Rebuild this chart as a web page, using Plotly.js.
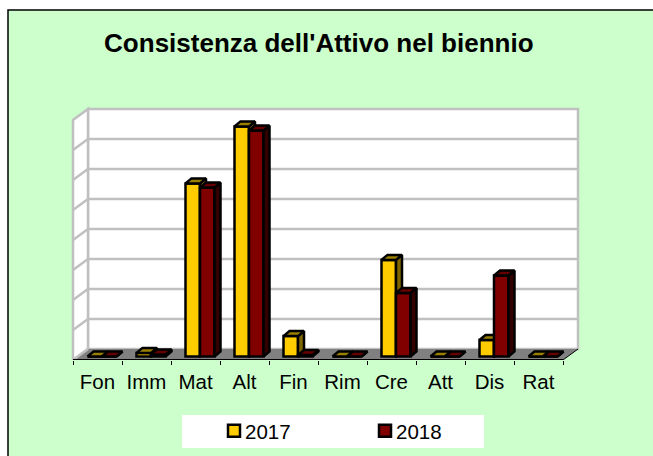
<!DOCTYPE html>
<html><head><meta charset="utf-8">
<script src="https://cdn.plot.ly/plotly-3.0.1.min.js"></script>
<style>html,body{margin:0;padding:0;background:#fff}#c{position:absolute;left:0;top:0;width:653px;height:456px}</style>
</head><body><div id="c"></div>
<script>
const categories=["Fon","Imm","Mat","Alt","Fin","Rim","Cre","Att","Dis","Rat"];
const values2017=[0,0.12,5.77,7.67,0.68,0,3.22,0,0.55,0];
const values2018=[0,0.07,5.63,7.53,0.05,0,2.12,0,2.70,0];
const seriesNames=["2017","2018"];
const titleText="Consistenza dell'Attivo nel biennio";

const W=653,H=456,L=73,R=578,T=109,B=360,CAT=49,UNIT=30;
// plot area is a little larger than the walls so their edge lines are not clipped
const PL=69,PR=582,PT=105,PB=360;
const xpx=p=>p/CAT, ypx=p=>p/UNIT;
const x0=-0.5, N=categories.length, x1=N-0.5;
const xRight=x0+xpx(R-L), yTop=ypx(B-T);
const xr=[x0-xpx(L-PL),x0+xpx(PR-L)], yr=[0,ypx(B-PT)];
const wallDX=xpx(15),wallDY=ypx(11);
const barDX=xpx(6),barDY=ypx(5),baseY=ypx(3.5),pairShift=xpx(4.5),barW=xpx(14.5);
const paperX=p=>(p-PL)/(PR-PL), paperY=p=>(PB-p)/(PB-PT);

const shapes=[];
const line=(a,b,c,d,col,w)=>shapes.push({type:'line',xref:'x',yref:'y',x0:a,y0:b,x1:c,y1:d,line:{color:col,width:w},layer:'below'});
const poly=(pts,fill,col,w)=>shapes.push({type:'path',xref:'x',yref:'y',layer:'below',
  path:'M'+pts.map(p=>p[0]+','+p[1]).join('L')+'Z',fillcolor:fill,line:{color:col,width:w}});
const GRID='#C0C0C0';
// chart area: white page, green panel with a black top and left edge
shapes.push({type:'rect',xref:'paper',yref:'paper',layer:'below',x0:paperX(8),x1:paperX(670),y0:paperY(480),y1:paperY(10),
  fillcolor:'#CCFFCC',line:{width:1.5,color:'#000000'}});
shapes.push({type:'rect',xref:'paper',yref:'paper',layer:'below',x0:paperX(182),x1:paperX(484),y0:paperY(448),y1:paperY(415),
  fillcolor:'#FFFFFF',line:{width:0}});
// back wall, left wall, floor
poly([[x0+wallDX,wallDY],[xRight,wallDY],[xRight,yTop],[x0+wallDX,yTop]],'#FFFFFF',GRID,2.5);
poly([[x0,0],[x0+wallDX,wallDY],[x0+wallDX,yTop],[x0,yTop-wallDY]],'#FFFFFF',GRID,2.5);
for(let g=1;g<=7;g++){
  line(x0+wallDX,wallDY+g,xRight,wallDY+g,GRID,2.5);
  line(x0,g,x0+wallDX,wallDY+g,GRID,2.5);
}
poly([[x0,0],[x1,0],[xRight,wallDY],[x0+wallDX,wallDY]],'#808080','#808080',0);
line(x0,0,x0+wallDX,wallDY,GRID,2.5);
line(x0,0,x1,0,'#000000',2);
line(x1,0,xRight,wallDY,'#000000',1);

function series(vals,idx,front,top,side,suffix){
  const sign=idx===0?-1:1;
  const xs=vals.map((v,i)=>i+pairShift+sign*barW/2);
  const out=[{type:'bar',name:seriesNames[idx],x:xs,y:vals,base:vals.map(()=>baseY),width:barW,
    marker:{color:front,line:{color:'#000000',width:2.5}},xaxis:'x'+suffix,yaxis:'y'+suffix,hoverinfo:'skip',cliponaxis:false}];
  const tx=[],ty=[],sx=[],sy=[];
  vals.forEach((v,i)=>{
    const l=xs[i]-barW/2,r=xs[i]+barW/2,b=baseY,t=baseY+v;
    tx.push(l,l+barDX,r+barDX,r,l,null);ty.push(t,t+barDY,t+barDY,t,t,null);
    sx.push(r,r+barDX,r+barDX,r,r,null);sy.push(b,b+barDY,t+barDY,t,b,null);
  });
  const face=(x,y,c)=>({type:'scatter',mode:'lines',x,y,fill:'toself',fillcolor:c,line:{color:'#000000',width:2.5},
    showlegend:false,xaxis:'x'+suffix,yaxis:'y'+suffix,hoverinfo:'skip',cliponaxis:false});
  out.push(face(sx,sy,side),face(tx,ty,top));
  return out;
}
const data=[...series(values2017,0,'#FFCC00','#998000','#806600',''),
            ...series(values2018,1,'#800000','#660000','#330000','2')];

const layout={
  width:W,height:H,autosize:false,
  paper_bgcolor:'#FFFFFF',plot_bgcolor:'rgba(0,0,0,0)',
  font:{family:'"Liberation Sans",Arial,sans-serif',color:'#000000',size:20.5},
  margin:{l:PL,r:W-PR,t:PT,b:H-PB,pad:0,autoexpand:false},
  title:{text:'<b>'+titleText+'</b>',font:{size:26,color:'#000000'},x:318/W,xanchor:'center',xref:'paper',y:1-43/H,yanchor:'middle'},
  xaxis:{range:xr,showgrid:false,zeroline:false,showline:false,tickmode:'array',
    tickvals:categories.map((c,i)=>i),ticktext:categories,ticks:'',ticklen:0,ticklabelstandoff:7,tickfont:{size:20.5,color:'#000000'},
    minor:{tickmode:'array',tickvals:categories.map((c,i)=>i-0.5).concat([x1]),ticks:'outside',ticklen:4,tickwidth:1,tickcolor:'#000000',showgrid:false},
    fixedrange:true},
  yaxis:{range:yr,showgrid:false,zeroline:false,showline:false,showticklabels:false,ticks:'',fixedrange:true},
  xaxis2:{range:xr,showgrid:false,zeroline:false,showticklabels:false,ticks:'',showline:false,fixedrange:true,overlaying:'x',anchor:'y2'},
  yaxis2:{range:yr,showgrid:false,zeroline:false,showticklabels:false,ticks:'',showline:false,fixedrange:true,overlaying:'y',anchor:'x2'},
  barmode:'overlay',
  shapes:shapes,
  legend:{orientation:'h',xref:'paper',yref:'paper',x:paperX(214),xanchor:'left',y:paperY(411),yanchor:'top',
    bgcolor:'rgba(0,0,0,0)',entrywidth:106,entrywidthmode:'pixels',traceorder:'normal',font:{size:20.5,color:'#000000'}},
  showlegend:true
};
Plotly.newPlot('c',data,layout,{displayModeBar:false,staticPlot:true}).then(()=>{
  // tighten the gap between legend swatch and label, as in the reference
  document.querySelectorAll('.legend .legendtext').forEach(t=>{
    t.setAttribute('x',String(parseFloat(t.getAttribute('x'))-9));
  });
});
</script></body></html>
